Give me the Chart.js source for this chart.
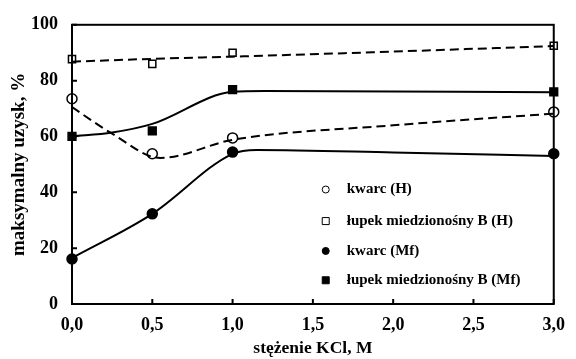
<!DOCTYPE html>
<html>
<head>
<meta charset="utf-8">
<script src="https://cdn.jsdelivr.net/npm/chart.js@4/dist/chart.umd.min.js"></script>
<style>
  html, body { margin: 0; padding: 0; background: #fff; }
  #wrap { width: 576px; height: 359px; }
</style>
</head>
<body>
<div id="wrap"><canvas id="chart"></canvas></div>
<script>
// measured points
const kcl = [0, 0.5, 1.0, 3.0];
const kwarcH = [73.5, 53.8, 59.5, 68.8];
const lupekH = [87.7, 86.0, 90.0, 92.5];
const kwarcMf = [16.1, 32.3, 54.4, 53.8];
const lupekMf = [60.0, 62.0, 76.8, 76.0];

// fitted curves
const fitKwarcHX = [0, 0.25, 0.55, 1.0, 2.0, 3.0];
const fitKwarcHY = [70.5, 61.0, 52.3, 58.8, 64.0, 68.2];
const fitLupekHX = [0, 0.5, 1.0, 2.0, 3.0];
const fitLupekHY = [86.8, 87.8, 88.6, 90.4, 92.4];
const fitKwarcMfX = [0, 0.5, 1.0, 1.15, 2.0, 3.0];
const fitKwarcMfY = [16.5, 32.3, 53.8, 55.2, 54.3, 53.0];
const fitLupekMfX = [0, 0.25, 0.5, 1.0, 1.2, 3.0];
const fitLupekMfY = [60.0, 61.4, 64.5, 76.0, 76.3, 75.8];

const yTicks = [0, 20, 40, 60, 80, 100];
const xTicks = [0, 0.5, 1.0, 1.5, 2.0, 2.5, 3.0];

const legendLabels = ['kwarc (H)', 'łupek miedzionośny B (H)', 'kwarc (Mf)', 'łupek miedzionośny B (Mf)'];

const FONT = "'Liberation Serif', 'Times New Roman', serif";

function pts(xs, ys) {
    return xs.map((x, i) => ({ x: x, y: ys[i] }));
}

function curve(xs, ys, dashed) {
    return {
        data: pts(xs, ys),
        showLine: true,
        borderColor: '#000',
        borderWidth: 2,
        borderDash: dashed ? [9, 5] : [],
        pointRadius: 0,
        cubicInterpolationMode: 'monotone',
        fill: false
    };
}

function marks(ys, style, filled, r) {
    return {
        data: pts(kcl, ys),
        showLine: false,
        pointStyle: style,
        pointRadius: r,
        pointBorderWidth: 1.5,
        pointBorderColor: '#000',
        pointBackgroundColor: filled ? '#000' : '#fff',
        clip: false
    };
}

// box around plot, ticks pointing inward, and legend inside the plot
const framePlugin = {
    id: 'frame',
    afterDatasetsDraw(chart) {
        const ctx = chart.ctx;
        const a = chart.chartArea;
        const xs = chart.scales.x;
        const ys = chart.scales.y;
        ctx.save();
        ctx.strokeStyle = '#000';
        ctx.lineWidth = 2;
        ctx.strokeRect(a.left, a.top, a.right - a.left, a.bottom - a.top);
        ctx.beginPath();
        yTicks.forEach(v => {
            const py = ys.getPixelForValue(v);
            ctx.moveTo(a.left, py);
            ctx.lineTo(a.left + 5, py);
        });
        xTicks.forEach(v => {
            const px = xs.getPixelForValue(v);
            ctx.moveTo(px, a.bottom);
            ctx.lineTo(px, a.bottom - 5);
        });
        ctx.stroke();

        // legend
        const lx = xs.getPixelForValue(1.58);
        const rows = [ys.getPixelForValue(41), ys.getPixelForValue(29.7), ys.getPixelForValue(19), ys.getPixelForValue(8.5)];
        ctx.font = 'bold 15px ' + FONT;
        ctx.textBaseline = 'middle';
        ctx.fillStyle = '#000';
        rows.forEach((py, i) => {
            ctx.lineWidth = 1;
            ctx.beginPath();
            if (i % 2 === 0) {
                ctx.arc(lx, py, 3.5, 0, Math.PI * 2);
            } else {
                ctx.rect(lx - 3.5, py - 3.5, 7, 7);
            }
            ctx.fillStyle = i < 2 ? '#fff' : '#000';
            ctx.fill();
            ctx.stroke();
            ctx.fillStyle = '#000';
            ctx.fillText(legendLabels[i], lx + 21, py);
        });
        ctx.restore();
    }
};

new Chart(document.getElementById('chart'), {
    type: 'scatter',
    data: {
        datasets: [
            curve(fitLupekHX, fitLupekHY, true),
            curve(fitKwarcHX, fitKwarcHY, true),
            curve(fitLupekMfX, fitLupekMfY, false),
            curve(fitKwarcMfX, fitKwarcMfY, false),
            marks(kwarcH, 'circle', false, 5),
            marks(lupekH, 'rect', false, 5),
            marks(kwarcMf, 'circle', true, 5),
            marks(lupekMf, 'rect', true, 5.5)
        ]
    },
    options: {
        responsive: true,
        maintainAspectRatio: false,
        animation: false,
        layout: { padding: { top: 21, right: 14, bottom: 0, left: 0 } },
        plugins: {
            legend: { display: false },
            tooltip: { enabled: false }
        },
        scales: {
            x: {
                type: 'linear',
                min: 0,
                max: 3,
                afterBuildTicks: s => { s.ticks = xTicks.map(v => ({ value: v })); },
                afterFit: s => { s.height = 55; },
                grid: { display: true, drawOnChartArea: false, drawTicks: false },
                border: { color: '#000', width: 2 },
                ticks: {
                    color: '#000',
                    padding: 11,
                    font: { family: FONT, size: 18, weight: 'bold' },
                    callback: v => v.toFixed(1).replace('.', ',')
                },
                title: {
                    display: true,
                    text: 'stężenie KCl, M',
                    color: '#000',
                    font: { family: FONT, size: 17.5, weight: 'bold' },
                    padding: { top: 0, bottom: 0 }
                }
            },
            y: {
                min: 0,
                max: 100,
                afterBuildTicks: s => { s.ticks = yTicks.map(v => ({ value: v })); },
                afterFit: s => { s.width = 72; },
                grid: { display: true, drawOnChartArea: false, drawTicks: false },
                border: { color: '#000', width: 2 },
                ticks: {
                    color: '#000',
                    padding: 14,
                    font: { family: FONT, size: 18, weight: 'bold' }
                },
                title: {
                    display: true,
                    text: 'maksymalny uzysk, %',
                    color: '#000',
                    font: { family: FONT, size: 19, weight: 'bold' },
                    padding: { top: 8, bottom: 0 }
                }
            }
        }
    },
    plugins: [framePlugin]
});
</script>
</body>
</html>
